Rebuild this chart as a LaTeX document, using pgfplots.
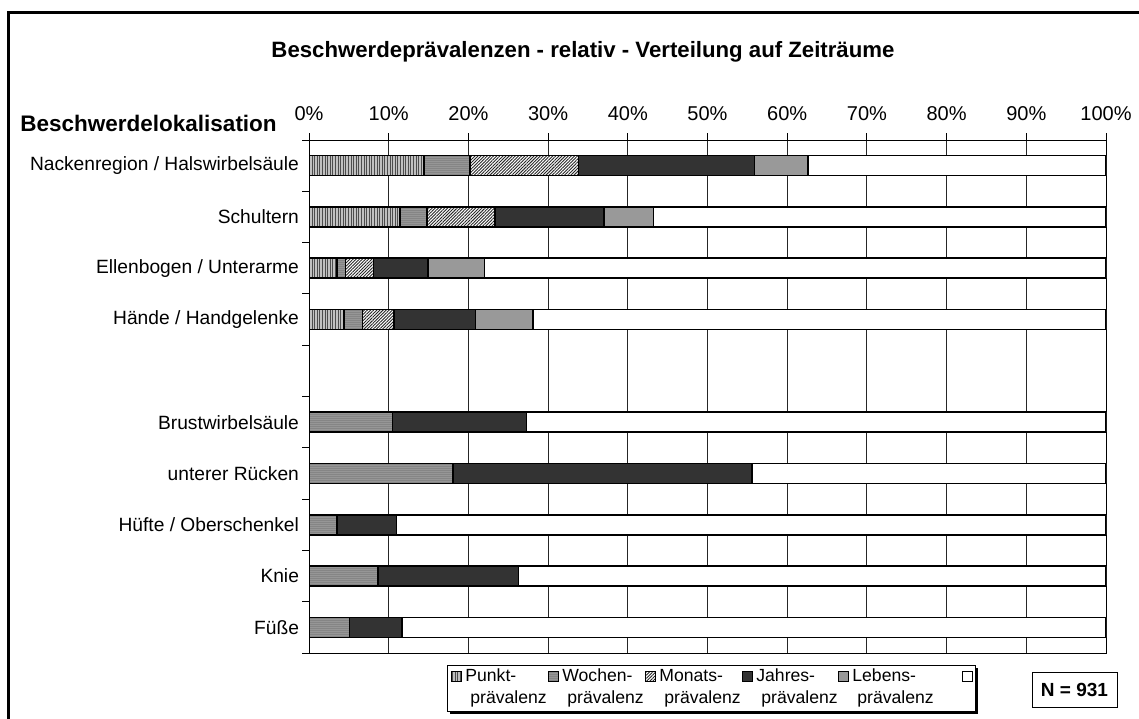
\documentclass[border=0pt]{standalone}
\usepackage{fontspec}
\setmainfont{Liberation Sans}
\usepackage{pgfplots}
\pgfplotsset{compat=1.18}
\usetikzlibrary{patterns.meta,shadows}

\definecolor{punkt}{HTML}{C0C0C0}
\definecolor{wochen}{HTML}{969696}
\definecolor{jahres}{HTML}{333333}
\definecolor{lebens}{HTML}{999999}

\tikzset{
  punktst/.style={draw=black, preaction={fill=punkt}, pattern color=black!70,
    pattern={Lines[angle=90,distance=1.3pt,line width=0.35pt]}},
  wochenst/.style={draw=black, preaction={fill=wochen}, pattern color=black!48,
    pattern={Lines[angle=0,distance=1pt,line width=0.3pt]}},
  monatsst/.style={draw=black, preaction={fill=white}, pattern color=black!85,
    pattern={Lines[angle=45,distance=1.1pt,line width=0.45pt]}},
  jahresst/.style={draw=black, fill=jahres},
  lebensst/.style={draw=black, fill=lebens},
  restst/.style={draw=black, fill=white},
}

\begin{document}
\begin{tikzpicture}
\path[use as bounding box] (0,0) rectangle (569.5pt,359pt);

\begin{axis}[
  at={(154.5pt,32.5pt)}, anchor=south west,
  scale only axis, width=398.5pt, height=256.5pt,
  xbar stacked, bar width=10pt,
  xmin=0, xmax=100, ymin=-0.5, ymax=9.5, y dir=reverse,
  xtick={0,10,...,100},
  xticklabels={0\%,10\%,20\%,30\%,40\%,50\%,60\%,70\%,80\%,90\%,100\%},
  xtick pos=upper, xticklabel pos=upper,
  ytick={-0.5,0.5,...,9.5},
  yticklabels={Nackenregion / Halswirbelsäule, Schultern, Ellenbogen / Unterarme,
    Hände / Handgelenke, {}, Brustwirbelsäule, unterer Rücken,
    Hüfte / Oberschenkel, Knie, Füße, {}},
  ytick pos=left,
  tick align=outside, major tick length=3.3pt,
  tick style={black, line width=0.5pt},
  xticklabel style={font=\fontsize{10}{11}\selectfont, yshift=2.5pt},
  yticklabel style={font=\fontsize{9.6}{11}\selectfont, yshift=-12.825pt, xshift=2pt},
  xmajorgrids, major grid style={black!85, line width=0.5pt},
  axis line style={black, line width=0.5pt},
  line width=0.8pt,
]
\addplot[punktst] coordinates {(14.4,0) (11.4,1) (3.5,2) (4.4,3) (0,4) (0,5) (0,6) (0,7) (0,8) (0,9)};
\addplot[wochenst] coordinates {(5.8,0) (3.4,1) (1.1,2) (2.3,3) (0,4) (10.5,5) (18.1,6) (3.55,7) (8.65,8) (5.1,9)};
\addplot[monatsst] coordinates {(13.6,0) (8.5,1) (3.5,2) (4.0,3) (0,4) (0,5) (0,6) (0,7) (0,8) (0,9)};
\addplot[jahresst] coordinates {(22.1,0) (13.7,1) (6.8,2) (10.2,3) (0,4) (16.8,5) (37.5,6) (7.45,7) (17.65,8) (6.6,9)};
\addplot[lebensst] coordinates {(6.7,0) (6.2,1) (7.1,2) (7.2,3) (0,4) (0,5) (0,6) (0,7) (0,8) (0,9)};
\addplot[restst] coordinates {(37.4,0) (56.8,1) (78.0,2) (71.9,3) (0,4) (72.7,5) (44.4,6) (89.0,7) (73.7,8) (88.3,9)};
\end{axis}

\begin{scope}[yshift=359pt, x=0.5pt, y=-0.5pt]
  % frame
  \draw[line width=1.5pt] (8,725) -- (8,13) -- (1150,13);
  % titles
  \node[font=\bfseries\fontsize{11.1}{13}\selectfont] at (583,52) {Beschwerdeprävalenzen - relativ - Verteilung auf Zeiträume};
  \node[font=\bfseries\fontsize{11.25}{13}\selectfont, anchor=base west, inner sep=0pt] at (20,132) {Beschwerdelokalisation};
  % legend
  \draw[line width=0.5pt, fill=white, drop shadow={shadow xshift=1.5pt, shadow yshift=-1.5pt, opacity=1, fill=black}] (447,665) rectangle (975,711);
  \foreach \sx/\st/\la in {451/punktst/Punkt-, 548/wochenst/Wochen-, 645/monatsst/Monats-, 742/jahresst/Jahres-, 838/lebensst/Lebens-} {
    \draw[\st, line width=0.5pt] (\sx,671) rectangle ++(10,10);
    \node[font=\fontsize{8.8}{10}\selectfont, anchor=base west, inner sep=0pt] at (\sx+14,681) {\la};
    \node[font=\fontsize{8.8}{10}\selectfont, anchor=base west, inner sep=0pt] at (\sx+19,703) {prävalenz};
  }
  \draw[restst, line width=0.5pt] (962,671) rectangle ++(10,10);
  % N box
  \draw[line width=0.5pt] (1032,672) rectangle (1117,707);
  \node[font=\bfseries\fontsize{9.5}{10}\selectfont] at (1074.5,689.5) {N = 931};
\end{scope}
\end{tikzpicture}
\end{document}
